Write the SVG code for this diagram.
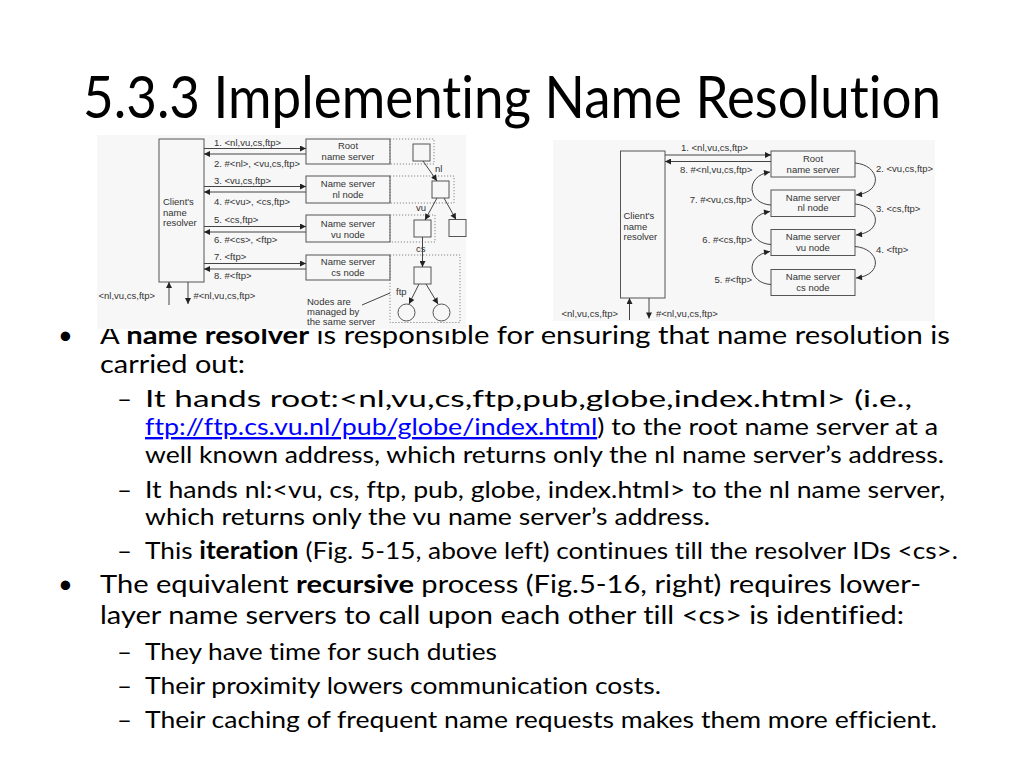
<svg xmlns="http://www.w3.org/2000/svg" width="1024" height="768" viewBox="0 0 1024 768">
<style>
.title{font-family:Lato,"Liberation Sans",sans-serif;font-size:58px;fill:#000;font-variant-ligatures:none;font-feature-settings:"liga" 0}
.l1{font-family:Lato,"Liberation Sans",sans-serif;font-size:25.5px;fill:#000;font-variant-ligatures:none;font-feature-settings:"liga" 0}
.l2{font-family:Lato,"Liberation Sans",sans-serif;font-size:24px;fill:#000;font-variant-ligatures:none;font-feature-settings:"liga" 0}
.b{font-weight:bold}
.link{fill:#0000ff;text-decoration:underline}
.fig{font-family:"Liberation Sans",Arial,sans-serif;font-size:9.5px;fill:#333}
.mid{text-anchor:middle}
.end{text-anchor:end}
.bg{fill:#f7f7f7;stroke:none}
.box{fill:none;stroke:#555;stroke-width:1}
.dot{fill:none;stroke:#888;stroke-width:1;stroke-dasharray:1.2 1.8}
.ln{fill:none;stroke:#444;stroke-width:1}
.ar{marker-end:url(#ah)}
</style>
<defs>
<marker id="ah" viewBox="0 0 10 10" refX="10" refY="5" markerWidth="8" markerHeight="6" markerUnits="userSpaceOnUse" orient="auto">
<path d="M0,0 L10,5 L0,10 Z" fill="#222"/>
</marker>
</defs>
<rect width="1024" height="768" fill="#fff"/>
<g id="title">
<text class="title" x="83" y="118" textLength="858" lengthAdjust="spacingAndGlyphs">5.3.3 Implementing Name Resolution</text>
</g>
<g id="body">
<text class="l1" x="58" y="344">•</text>
<text class="l1" x="100" y="344" textLength="850" lengthAdjust="spacingAndGlyphs">A <tspan class="b">name resolver</tspan> is responsible for ensuring that name resolution is</text>
<text class="l1" x="100" y="373" textLength="145" lengthAdjust="spacingAndGlyphs">carried out:</text>
<text class="l2" x="117" y="407" textLength="15" lengthAdjust="spacingAndGlyphs">–</text>
<text class="l2" x="145" y="407" textLength="767" lengthAdjust="spacingAndGlyphs">It hands root:&lt;nl,vu,cs,ftp,pub,globe,index.html&gt; (i.e.,</text>
<text class="l2" x="145" y="435" textLength="793" lengthAdjust="spacingAndGlyphs"><tspan class="link">ftp://ftp.cs.vu.nl/pub/globe/index.html</tspan>) to the root name server at a</text>
<text class="l2" x="145" y="463" textLength="799" lengthAdjust="spacingAndGlyphs">well known address, which returns only the nl name server’s address.</text>
<text class="l2" x="117" y="498" textLength="15" lengthAdjust="spacingAndGlyphs">–</text>
<text class="l2" x="145" y="498" textLength="800" lengthAdjust="spacingAndGlyphs">It hands nl:&lt;vu, cs, ftp, pub, globe, index.html&gt; to the nl name server,</text>
<text class="l2" x="145" y="525" textLength="565" lengthAdjust="spacingAndGlyphs">which returns only the vu name server’s address.</text>
<text class="l2" x="117" y="559" textLength="15" lengthAdjust="spacingAndGlyphs">–</text>
<text class="l2" x="145" y="559" textLength="813" lengthAdjust="spacingAndGlyphs">This <tspan class="b">iteration</tspan> (Fig. 5-15, above left) continues till the resolver IDs &lt;cs&gt;.</text>
<text class="l1" x="58" y="593">•</text>
<text class="l1" x="100" y="593" textLength="821" lengthAdjust="spacingAndGlyphs">The equivalent <tspan class="b">recursive</tspan> process (Fig.5-16, right) requires lower-</text>
<text class="l1" x="100" y="624" textLength="804" lengthAdjust="spacingAndGlyphs">layer name servers to call upon each other till &lt;cs&gt; is identified:</text>
<text class="l2" x="117" y="660" textLength="15" lengthAdjust="spacingAndGlyphs">–</text>
<text class="l2" x="145" y="660" textLength="352" lengthAdjust="spacingAndGlyphs">They have time for such duties</text>
<text class="l2" x="117" y="694" textLength="15" lengthAdjust="spacingAndGlyphs">–</text>
<text class="l2" x="145" y="694" textLength="516" lengthAdjust="spacingAndGlyphs">Their proximity lowers communication costs.</text>
<text class="l2" x="117" y="728" textLength="15" lengthAdjust="spacingAndGlyphs">–</text>
<text class="l2" x="145" y="728" textLength="792" lengthAdjust="spacingAndGlyphs">Their caching of frequent name requests makes them more efficient.</text>
</g>

<!-- Figure 5-15 (iterative) -->
<g id="fig-iterative">
<rect class="bg" x="97" y="135" width="369" height="194"/>
<g id="it-client">
<rect class="box" x="159" y="139" width="45" height="143"/>
<text class="fig" x="163" y="205">Client's</text>
<text class="fig" x="163" y="215.5">name</text>
<text class="fig" x="163" y="226">resolver</text>
</g>
<g id="it-root">
<rect class="dot" x="390" y="139" width="44" height="25"/>
<rect class="box" x="306" y="139" width="84" height="25"/>
<text class="fig mid" x="348" y="149">Root</text>
<text class="fig mid" x="348" y="160">name server</text>
</g>
<g id="it-nl">
<rect class="dot" x="390" y="176" width="64" height="27"/>
<rect class="box" x="306" y="176" width="84" height="27"/>
<text class="fig mid" x="348" y="187">Name server</text>
<text class="fig mid" x="348" y="197.5">nl node</text>
</g>
<g id="it-vu">
<rect class="dot" x="390" y="215" width="45" height="27"/>
<rect class="box" x="306" y="215" width="84" height="27"/>
<text class="fig mid" x="348" y="226.5">Name server</text>
<text class="fig mid" x="348" y="237.5">vu node</text>
</g>
<g id="it-cs">
<rect class="dot" x="390" y="255" width="70" height="67.5"/>
<rect class="box" x="306" y="255" width="84" height="25"/>
<text class="fig mid" x="348" y="265">Name server</text>
<text class="fig mid" x="348" y="276">cs node</text>
</g>
<g id="it-tree">
<rect class="box" x="413" y="144" width="17" height="17"/>
<rect class="box" x="432" y="181" width="17" height="17"/>
<rect class="box" x="414" y="220" width="17" height="17"/>
<rect class="box" x="449" y="219.5" width="17" height="17"/>
<rect class="box" x="414" y="267" width="17" height="17"/>
<circle class="box" cx="406.5" cy="312.5" r="8.5"/>
<circle class="box" cx="441.5" cy="312.5" r="8.5"/>
<text class="fig" x="435" y="171.5">nl</text>
<text class="fig" x="416" y="210.5">vu</text>
<text class="fig" x="416" y="252">cs</text>
<text class="fig" x="396" y="295">ftp</text>
</g>
<g id="it-note">
<text class="fig" x="307" y="304.5">Nodes are</text>
<text class="fig" x="307" y="314.5">managed by</text>
<text class="fig" x="307" y="324.5">the same server</text>
</g>
<g id="it-labels">
<text class="fig" x="214" y="146">1. &lt;nl,vu,cs,ftp&gt;</text>
<text class="fig" x="214" y="166.5">2. #&lt;nl&gt;, &lt;vu,cs,ftp&gt;</text>
<text class="fig" x="214" y="184">3. &lt;vu,cs,ftp&gt;</text>
<text class="fig" x="214" y="205">4. #&lt;vu&gt;, &lt;cs,ftp&gt;</text>
<text class="fig" x="214" y="223">5. &lt;cs,ftp&gt;</text>
<text class="fig" x="214" y="243">6. #&lt;cs&gt;, &lt;ftp&gt;</text>
<text class="fig" x="214" y="260">7. &lt;ftp&gt;</text>
<text class="fig" x="214" y="278.5">8. #&lt;ftp&gt;</text>
<text class="fig" x="98.5" y="299">&lt;nl,vu,cs,ftp&gt;</text>
<text class="fig" x="193.5" y="299">#&lt;nl,vu,cs,ftp&gt;</text>
</g>
</g>

<!-- Figure 5-16 (recursive) -->
<g id="fig-recursive">
<rect class="bg" x="553" y="140" width="382" height="181"/>
<g id="rc-client">
<rect class="box" x="620.5" y="151" width="44.5" height="147"/>
<text class="fig" x="623.5" y="219">Client's</text>
<text class="fig" x="623.5" y="229.5">name</text>
<text class="fig" x="623.5" y="240">resolver</text>
</g>
<g id="rc-root">
<rect class="box" x="771" y="151" width="84" height="26"/>
<text class="fig mid" x="813" y="162">Root</text>
<text class="fig mid" x="813" y="172.5">name server</text>
</g>
<g id="rc-nl">
<rect class="box" x="771" y="190" width="84" height="26.5"/>
<text class="fig mid" x="813" y="200.5">Name server</text>
<text class="fig mid" x="813" y="211">nl node</text>
</g>
<g id="rc-vu">
<rect class="box" x="771" y="229.5" width="84" height="26"/>
<text class="fig mid" x="813" y="240">Name server</text>
<text class="fig mid" x="813" y="251">vu node</text>
</g>
<g id="rc-cs">
<rect class="box" x="771" y="269.5" width="84" height="26"/>
<text class="fig mid" x="813" y="280">Name server</text>
<text class="fig mid" x="813" y="291">cs node</text>
</g>
<g id="rc-labels">
<text class="fig" x="681" y="151">1. &lt;nl,vu,cs,ftp&gt;</text>
<text class="fig" x="680" y="172.5">8. #&lt;nl,vu,cs,ftp&gt;</text>
<text class="fig end" x="752" y="202.5">7. #&lt;vu,cs,ftp&gt;</text>
<text class="fig end" x="752" y="242.5">6. #&lt;cs,ftp&gt;</text>
<text class="fig end" x="752" y="283">5. #&lt;ftp&gt;</text>
<text class="fig" x="876" y="171.5">2. &lt;vu,cs,ftp&gt;</text>
<text class="fig" x="876" y="211.5">3. &lt;cs,ftp&gt;</text>
<text class="fig" x="876" y="253">4. &lt;ftp&gt;</text>
<text class="fig" x="561.5" y="317">&lt;nl,vu,cs,ftp&gt;</text>
<text class="fig" x="656" y="317">#&lt;nl,vu,cs,ftp&gt;</text>
</g>
</g>

<g id="connectors">
<!-- iterative: client <-> servers -->
<line class="ln ar" x1="204" y1="148.5" x2="306" y2="148.5"/>
<line class="ln ar" x1="306" y1="154" x2="204" y2="154"/>
<line class="ln ar" x1="204" y1="186.5" x2="306" y2="186.5"/>
<line class="ln ar" x1="306" y1="192" x2="204" y2="192"/>
<line class="ln ar" x1="204" y1="226.5" x2="306" y2="226.5"/>
<line class="ln ar" x1="306" y1="232" x2="204" y2="232"/>
<line class="ln ar" x1="204" y1="263.5" x2="306" y2="263.5"/>
<line class="ln ar" x1="306" y1="269" x2="204" y2="269"/>
<line class="ln ar" x1="169" y1="305" x2="169" y2="282"/>
<line class="ln ar" x1="188" y1="282" x2="188" y2="304"/>
<!-- iterative: name tree -->
<line class="ln ar" x1="423" y1="161" x2="437" y2="181"/>
<line class="ln ar" x1="437" y1="198" x2="425" y2="220"/>
<line class="ln ar" x1="444" y1="198" x2="456" y2="219.5"/>
<line class="ln ar" x1="422.5" y1="237" x2="422.5" y2="267"/>
<line class="ln ar" x1="419" y1="284" x2="409" y2="304"/>
<line class="ln ar" x1="426" y1="284" x2="438" y2="304"/>
<line class="ln" x1="362" y1="305" x2="390" y2="293"/>
<!-- recursive -->
<line class="ln ar" x1="665" y1="155" x2="771" y2="155"/>
<line class="ln ar" x1="771" y1="161.5" x2="665" y2="161.5"/>
<path class="ln ar" d="M771,205 C748,204 744,176 770,172"/>
<path class="ln ar" d="M771,244.5 C748,243.5 744,215.5 770,211.5"/>
<path class="ln ar" d="M771,284.5 C748,283.5 744,255.5 770,251.5"/>
<path class="ln ar" d="M855,163 C880,165 884,192 856,195"/>
<path class="ln ar" d="M855,204 C880,206 884,232 856,235"/>
<path class="ln ar" d="M855,246.5 C880,248.5 884,275 856,278"/>
<line class="ln ar" x1="629.5" y1="320" x2="629.5" y2="298"/>
<line class="ln ar" x1="649" y1="298" x2="649" y2="318.5"/>
</g>
</svg>
